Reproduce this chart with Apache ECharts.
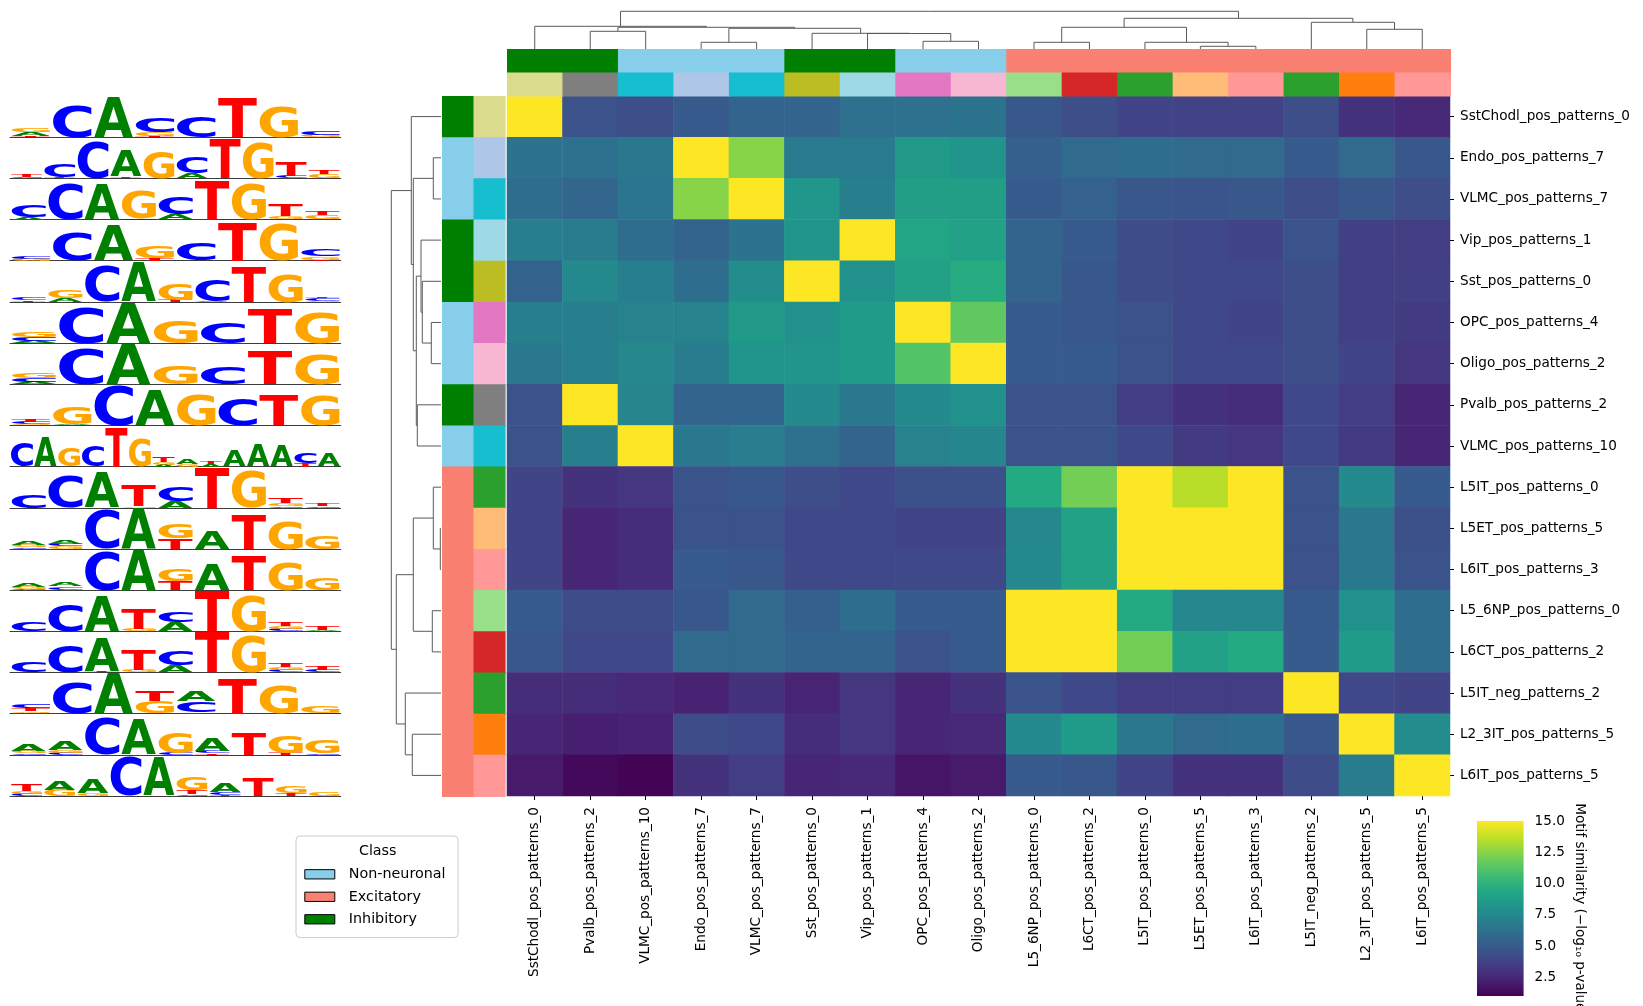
<!DOCTYPE html>
<html><head><meta charset="utf-8">
<script src="https://cdn.jsdelivr.net/npm/echarts@6/dist/echarts.min.js"></script>
<style>html,body{margin:0;padding:0;background:#fff}#c{width:1643px;height:1006px}</style>
</head><body><div id="c"></div>
<script>
// ---------------- DATA ----------------
const colLabels = ['SstChodl_pos_patterns_0','Pvalb_pos_patterns_2','VLMC_pos_patterns_10','Endo_pos_patterns_7','VLMC_pos_patterns_7','Sst_pos_patterns_0','Vip_pos_patterns_1','OPC_pos_patterns_4','Oligo_pos_patterns_2','L5_6NP_pos_patterns_0','L6CT_pos_patterns_2','L5IT_pos_patterns_0','L5ET_pos_patterns_5','L6IT_pos_patterns_3','L5IT_neg_patterns_2','L2_3IT_pos_patterns_5','L6IT_pos_patterns_5'];
const rowLabels = ['SstChodl_pos_patterns_0','Endo_pos_patterns_7','VLMC_pos_patterns_7','Vip_pos_patterns_1','Sst_pos_patterns_0','OPC_pos_patterns_4','Oligo_pos_patterns_2','Pvalb_pos_patterns_2','VLMC_pos_patterns_10','L5IT_pos_patterns_0','L5ET_pos_patterns_5','L6IT_pos_patterns_3','L5_6NP_pos_patterns_0','L6CT_pos_patterns_2','L5IT_neg_patterns_2','L2_3IT_pos_patterns_5','L6IT_pos_patterns_5'];
const colSubtype = ['SstChodl','Pvalb','VLMC','Endo','VLMC','Sst','Vip','OPC','Oligo','L5_6NP','L6CT','L5IT','L5ET','L6IT','L5IT','L2_3IT','L6IT'];
const rowSubtype = ['SstChodl','Endo','VLMC','Vip','Sst','OPC','Oligo','Pvalb','VLMC','L5IT','L5ET','L6IT','L5_6NP','L6CT','L5IT','L2_3IT','L6IT'];
const classNames = ['Non-neuronal','Excitatory','Inhibitory'];
const classColors = {'Non-neuronal':'#87ceeb','Excitatory':'#fa8072','Inhibitory':'#008000'};
const subtypeClass = {SstChodl:'Inhibitory',Pvalb:'Inhibitory',Sst:'Inhibitory',Vip:'Inhibitory',VLMC:'Non-neuronal',Endo:'Non-neuronal',OPC:'Non-neuronal',Oligo:'Non-neuronal',L5_6NP:'Excitatory',L6CT:'Excitatory',L5IT:'Excitatory',L5ET:'Excitatory',L6IT:'Excitatory',L2_3IT:'Excitatory'};
const subtypeColors = {SstChodl:'#dbdb8d',Pvalb:'#7f7f7f',VLMC:'#17becf',Endo:'#aec7e8',Sst:'#bcbd22',Vip:'#9edae5',OPC:'#e377c2',Oligo:'#f7b6d2',L5_6NP:'#98df8a',L6CT:'#d62728',L5IT:'#2ca02c',L5ET:'#ffbb78',L6IT:'#ff9896',L2_3IT:'#ff7f0e'};

// similarity (-log10 p) : rows x cols
const similarity = [
 [15, 4.5, 4.3, 5.0, 5.5, 5.5, 6.2, 6.2, 6.3, 4.8, 4.3, 3.8, 3.7, 3.7, 4.3, 3.0, 2.6],
 [6.3, 6.2, 6.6, 15, 12.5, 6.7, 6.7, 8.5, 8.2, 5.2, 5.8, 6.0, 5.8, 5.8, 5.0, 5.8, 4.8],
 [6.0, 5.6, 6.5, 12.5, 15, 8.3, 7.0, 8.8, 8.8, 5.0, 5.3, 4.8, 4.7, 4.8, 4.3, 4.8, 4.3],
 [7.0, 6.8, 6.0, 5.5, 6.3, 8.2, 15, 9.2, 9.0, 5.5, 5.0, 4.2, 4.0, 3.8, 4.6, 3.6, 3.5],
 [5.4, 7.6, 7.0, 6.0, 7.7, 15, 8.0, 9.0, 9.6, 5.5, 4.8, 4.2, 4.0, 4.0, 4.3, 3.6, 3.6],
 [7.0, 7.0, 7.2, 7.2, 8.5, 8.0, 8.6, 15, 11.5, 5.0, 4.8, 4.5, 4.0, 3.8, 4.3, 3.6, 3.4],
 [6.6, 7.0, 7.5, 6.8, 8.2, 8.2, 8.6, 11.2, 15, 5.0, 5.0, 4.5, 4.0, 4.0, 4.3, 3.8, 3.2],
 [4.5, 15, 7.3, 5.5, 5.5, 7.6, 6.6, 7.6, 8.0, 4.5, 4.5, 3.5, 3.0, 2.8, 4.0, 3.5, 2.5],
 [4.6, 7.0, 15, 6.6, 6.9, 6.2, 5.5, 7.2, 7.4, 4.6, 4.6, 4.0, 3.4, 3.2, 4.0, 3.4, 2.5],
 [3.8, 3.0, 3.2, 4.6, 4.8, 4.3, 4.0, 4.4, 4.4, 9.5, 12.0, 15, 13.5, 15, 4.6, 7.6, 5.0],
 [3.8, 2.5, 2.8, 4.6, 4.6, 4.0, 4.0, 3.8, 3.8, 7.5, 9.0, 15, 15, 15, 4.6, 6.6, 4.4],
 [3.8, 2.5, 2.8, 5.0, 4.8, 4.0, 4.0, 4.0, 4.0, 7.6, 9.0, 15, 15, 15, 4.5, 6.6, 4.6],
 [5.0, 4.2, 4.2, 4.8, 5.8, 5.2, 6.0, 5.0, 5.0, 15, 15, 9.5, 7.5, 7.5, 5.0, 8.0, 6.0],
 [4.8, 4.0, 4.0, 5.8, 5.8, 5.5, 5.5, 4.6, 5.0, 15, 15, 12.0, 9.0, 9.5, 5.0, 8.6, 6.0],
 [2.8, 2.8, 2.6, 2.3, 3.0, 2.4, 3.2, 2.5, 3.0, 4.6, 4.0, 3.5, 3.5, 3.5, 15, 4.0, 3.8],
 [2.5, 2.2, 2.3, 4.2, 4.0, 2.8, 3.2, 2.5, 2.6, 7.6, 8.6, 6.6, 5.8, 6.0, 4.8, 15, 7.8],
 [2.0, 1.3, 1.1, 3.0, 3.5, 2.5, 2.6, 1.8, 2.0, 5.0, 4.8, 3.8, 3.0, 3.0, 4.2, 6.8, 15]
];
const colorbarTicks = [2.5, 5.0, 7.5, 10.0, 12.5, 15.0];

// linkage (child a, child b, distance); leaves 0..16 in display order
const colLinkage = [
 [12,13,2.7],[3,4,6.7],[9,10,6.7],[11,17,6.7],[7,8,7.7],[6,21,15.5],[5,22,15.7],[1,2,17.7],
 [15,16,19.7],[18,23,20.7],[24,26,21.7],[19,20,21.7],[0,27,22.7],[14,25,26.7],[28,30,30.7],[29,31,37.7]
];
const rowLinkage = [
 [10,11,0.7],[1,2,7.7],[9,17,7.7],[12,13,8.7],[5,6,9.7],[4,21,18.7],[3,22,20.0],[7,8,23.7],
 [23,24,24.7],[18,25,27.7],[19,20,27.7],[15,16,28.7],[0,26,29.7],[14,28,35.7],[27,30,44.7],[29,31,49.7]
];

// sequence logos (one per row): columns, letters bottom->top with height in bits
const logos = [
 ['T.05 A.2 G.2','C1.55','A2','T.05 G.2 C.7','C1','T1.9','G1.5','G.12 C.2'],
 ['C.05 T.12','T.05 C.65','C1.85','T.08 A1.25','G1.3','A.27 C.75','T1.9','G1.8','C.1 T.7','G.2 T.2'],
 ['A.1 C.6','C1.8','A1.7','C.05 G1.35','A.25 C.85','T1.9','G1.75','G.15 T.6','G.2 T.2'],
 ['G.1 C.15','C1.4','A1.7','T.1 G.6','C.85','T1.87','G1.85','T.05 G.15 C.33'],
 ['T.08 C.12','A.2 G.4','C1.8','A1.9','T.1 G.75','A.05 C1.05','T1.7','G1.4','G.05 C.12 T.05'],
 ['A.1 C.2 G.25','C1.75','A2','G1.1','C.95','T1.65','G1.5'],
 ['A.1 C.2 G.25','C1.8','A1.95','G.9','C.85','T1.6','G1.45'],
 ['G.05 C.1 T.12','A.05 G.87','C1.95','A1.75','G1.5','C1.3','T1.5','G1.43'],
 ['C1.2','A1.4','G.9','C1','T1.9','G1.4','A.1 G.1 T.27','G.12 A.22','A.15 T.12','A.78','A1.07','A1','T.17 C.52','A.62'],
 ['C.62','C1.6','A1.7','G.08 T1.05','A.33 C.72','T1.95','G1.85','C.07 G.15 T.24','C.08 T.14'],
 ['C.08 G.12 A.2','G.12 C.12 A.2','C1.9','A2','T.52 G.7','A.87','T1.67','G1.35','G.63'],
 ['C.05 G.1 A.2','C.1 G.08 A.2','C1.9','A1.95','T.45 G.6','A1.25','T1.68','G1.37','G.57'],
 ['C.45','C1.3','A1.7','G.1 T.95','A.45 C.55','T1.98','G1.8','C.1 G.15 T.2','A.05 T.2'],
 ['C.52','C1.3','T.05 A1.6','G.1 T.95','A.33 C.72','T1.97','G1.85','C.12 G.15 T.2','C.12 T.2'],
 ['A.05 G.08 T.12 C.2','C1.5','A2','G.6 T.5','T.05 C.55 A.52','T1.75','G1.35','C.05 G.3'],
 ['C.08 G.12 A.32','C.1 G.15 A.47','C1.85','A1.75','C.1 G.95','T.08 C.12 A.66','T1.1','T.1 G.83','C.07 G.63'],
 ['C.1 G.15 T.32','G.3 A.47','G.15 A.7','C1.9','A1.83','C.08 T.2 G.63','T.07 C.12 A.43','T.9','T.15 G.32','G.22']
];

// ---------------- STYLE ----------------
const FONT = '"DejaVu Sans", sans-serif';
const viridis = ['#440154','#482475','#414487','#355f8d','#2a788e','#21918c','#22a884','#44bf70','#7ad151','#bddf26','#fde725'];
const LETTERS = ['A','C','G','T'];
const letterColor = {A:'#008000', C:'#0000ff', G:'#ffa500', T:'#ff0000'};
const LOGO_FONT = 'bold 100px "DejaVu Sans"';
const DENDRO_COLOR = '#5a5a5a';

// glyph ink metrics
const glyph = {};
(function(){
  const ctx = document.createElement('canvas').getContext('2d');
  ctx.font = LOGO_FONT; ctx.textBaseline = 'middle'; ctx.textAlign = 'left';
  LETTERS.forEach(L => {
    const m = ctx.measureText(L);
    glyph[L] = {l: m.actualBoundingBoxLeft, r: m.actualBoundingBoxRight, a: m.actualBoundingBoxAscent, d: m.actualBoundingBoxDescent};
    if (!isFinite(glyph[L].a) || glyph[L].a + glyph[L].d <= 0) glyph[L] = {l: -4, r: 72, a: 37, d: 37};
  });
})();

const grids = [], xAxes = [], yAxes = [], series = [];
function addGrid(g, xa, ya) {
  grids.push(Object.assign({outerBoundsMode: 'none', containLabel: false}, g));
  const gi = grids.length - 1;
  xAxes.push(Object.assign({gridIndex: gi}, xa));
  yAxes.push(Object.assign({gridIndex: gi}, ya));
  return gi;
}

const HM = {left: 507, top: 96, width: 943, height: 700};
const tickLabel = {fontSize: 13.6, fontFamily: FONT, color: '#000'};

// heatmap
const gH = addGrid(HM,
  {type: 'category', data: colLabels, position: 'bottom', axisLine: {show: false},
   axisTick: {show: true, alignWithLabel: true, length: 4, lineStyle: {color: '#000'}},
   axisLabel: Object.assign({rotate: 90, margin: 11, interval: 0}, tickLabel), splitLine: {show: false}},
  {type: 'category', data: rowLabels, inverse: true, position: 'right', axisLine: {show: false},
   axisTick: {show: true, alignWithLabel: true, length: 4, lineStyle: {color: '#000'}},
   axisLabel: Object.assign({margin: 10, interval: 0}, tickLabel), splitLine: {show: false}});
const hmData = [];
similarity.forEach((row, r) => row.forEach((v, c) => hmData.push([c, r, v])));
series.push({type: 'heatmap', xAxisIndex: gH, yAxisIndex: gH, data: hmData, progressive: 0, emphasis: {disabled: true}, silent: true});
const heatmapSeriesIndex = series.length - 1;

// cell renderer for annotation colour bars (cells overlap slightly to avoid seams)
function cellRender(colors, padX, padY) {
  return function (params, api) {
    const c = api.coord([api.value(0), api.value(1)]);
    const s = api.size([1, 1]);
    return {type: 'rect', shape: {x: c[0] - s[0] / 2, y: c[1] - s[1] / 2, width: s[0] + padX, height: s[1] + padY},
            style: {fill: colors[params.dataIndex], stroke: null}, silent: true};
  };
}

// column annotation bars
const gTC = addGrid({left: HM.left, top: 49, width: HM.width, height: 47},
  {type: 'category', data: colLabels, show: false}, {type: 'category', data: ['class', 'subtype'], inverse: true, show: false});
const tcData = [], tcColors = [];
colSubtype.forEach((s, i) => {
  tcData.push([i, 0]); tcColors.push(classColors[subtypeClass[s]]);
  tcData.push([i, 1]); tcColors.push(subtypeColors[s]);
});
series.push({type: 'custom', xAxisIndex: gTC, yAxisIndex: gTC, data: tcData, renderItem: cellRender(tcColors, 1, 0.6), silent: true});

// row annotation bars
const gRC = addGrid({left: 442, top: HM.top, width: 63, height: HM.height},
  {type: 'category', data: ['class', 'subtype'], show: false}, {type: 'category', data: rowLabels, inverse: true, show: false});
const rcData = [], rcColors = [];
rowSubtype.forEach((s, i) => {
  rcData.push([0, i]); rcColors.push(classColors[subtypeClass[s]]);
  rcData.push([1, i]); rcColors.push(subtypeColors[s]);
});
series.push({type: 'custom', xAxisIndex: gRC, yAxisIndex: gRC, data: rcData, renderItem: cellRender(rcColors, 0.6, 1), silent: true});

// dendrograms
function dendroLinks(merges, n) {
  const pos = [], h = [];
  for (let i = 0; i < n; i++) { pos[i] = i + 0.5; h[i] = 0; }
  const links = [];
  merges.forEach(([a, b, d], k) => {
    links.push([pos[a], pos[b], h[a], h[b], d]);
    pos[n + k] = (pos[a] + pos[b]) / 2; h[n + k] = d;
  });
  return links;
}
const colRoot = colLinkage[colLinkage.length - 1][2];
const rowRoot = rowLinkage[rowLinkage.length - 1][2];
const topH = 37.7 * 1.05;
const gTD = addGrid({left: HM.left, top: 49 - topH, width: HM.width, height: topH},
  {type: 'value', min: 0, max: colLabels.length, show: false},
  {type: 'value', min: 0, max: colRoot * 1.05, show: false});
series.push({type: 'custom', xAxisIndex: gTD, yAxisIndex: gTD, data: dendroLinks(colLinkage, colLabels.length), silent: true,
  renderItem: (p, api) => {
    const xa = api.value(0), xb = api.value(1), ha = api.value(2), hb = api.value(3), d = api.value(4);
    return {type: 'polyline', shape: {points: [api.coord([xa, ha]), api.coord([xa, d]), api.coord([xb, d]), api.coord([xb, hb])]},
            style: {stroke: DENDRO_COLOR, lineWidth: 1, fill: null}, silent: true};
  }});
const leftW = 49.7 * 1.05;
const gLD = addGrid({left: 441 - leftW, top: HM.top, width: leftW, height: HM.height},
  {type: 'value', min: 0, max: rowRoot * 1.05, inverse: true, show: false},
  {type: 'value', min: 0, max: rowLabels.length, inverse: true, show: false});
series.push({type: 'custom', xAxisIndex: gLD, yAxisIndex: gLD, data: dendroLinks(rowLinkage, rowLabels.length), silent: true,
  renderItem: (p, api) => {
    const ya = api.value(0), yb = api.value(1), ha = api.value(2), hb = api.value(3), d = api.value(4);
    return {type: 'polyline', shape: {points: [api.coord([ha, ya]), api.coord([d, ya]), api.coord([d, yb]), api.coord([hb, yb])]},
            style: {stroke: DENDRO_COLOR, lineWidth: 1, fill: null}, silent: true};
  }});

// sequence logos
const rowH = HM.height / rowLabels.length;
function logoRender(params, api) {
  const x0 = api.value(0), x1 = api.value(1), y0 = api.value(2), y1 = api.value(3);
  const L = LETTERS[api.value(4)];
  const pTL = api.coord([x0, y1]), pBR = api.coord([x1, y0]);
  const W = pBR[0] - pTL[0], H = pBR[1] - pTL[1];
  if (H < 0.4) return null;
  const g = glyph[L];
  const sx = W / (g.l + g.r), sy = H / (g.a + g.d);
  return {type: 'text', x: pTL[0] + sx * g.l, y: pTL[1] + sy * g.a, scaleX: sx, scaleY: sy, silent: true,
          style: {text: L, x: 0, y: 0, font: LOGO_FONT, fill: letterColor[L], align: 'left', verticalAlign: 'middle'}};
}
logos.forEach((cols, r) => {
  const n = cols.length;
  const gi = addGrid({left: 10, top: HM.top + r * rowH, width: 330.7, height: rowH},
    {type: 'value', min: 0, max: n, position: 'bottom', axisLine: {show: true, onZero: false, lineStyle: {color: '#3c3c3c', width: 1}},
     axisTick: {show: false}, axisLabel: {show: false}, splitLine: {show: false}},
    {type: 'value', min: 0, max: 2, show: false});
  const data = [];
  cols.forEach((col, p) => {
    let base = 0;
    col.trim().split(/\s+/).forEach(tok => {
      const L = tok[0], h = parseFloat(tok.slice(1));
      data.push([p + 0.03, p + 0.97, base, base + h, LETTERS.indexOf(L)]);
      base += h;
    });
  });
  series.push({type: 'custom', xAxisIndex: gi, yAxisIndex: gi, data: data, renderItem: logoRender, silent: true, clip: false});
});

// colorbar
const gCB = addGrid({left: 1477, top: 821, width: 46.6, height: 175},
  {type: 'value', min: 0, max: 1, show: false},
  {type: 'value', min: 1, max: 15, position: 'right', axisLine: {show: false},
   axisTick: {show: true, length: 4.5, customValues: colorbarTicks, lineStyle: {color: '#000'}},
   axisLabel: Object.assign({margin: 11, customValues: colorbarTicks, formatter: v => Number(v).toFixed(1)}, tickLabel),
   splitLine: {show: false}});
series.push({type: 'custom', xAxisIndex: gCB, yAxisIndex: gCB, data: [[0, 1, 1, 15]], silent: true,
  renderItem: (p, api) => {
    const a = api.coord([api.value(0), api.value(3)]), b = api.coord([api.value(1), api.value(2)]);
    return {type: 'rect', shape: {x: a[0], y: a[1], width: b[0] - a[0], height: b[1] - a[1]},
      style: {fill: new echarts.graphic.LinearGradient(0, 1, 0, 0, viridis.map((c, i) => ({offset: i / (viridis.length - 1), color: c})))}};
  }});

// legend dummy series
classNames.forEach(name => {
  series.push({type: 'bar', name: name, xAxisIndex: gH, yAxisIndex: gH, data: [], itemStyle: {color: classColors[name]}});
});

const option = {
  animation: false,
  backgroundColor: '#fff',
  textStyle: {fontFamily: FONT},
  grid: grids, xAxis: xAxes, yAxis: yAxes, series: series,
  visualMap: [{type: 'continuous', show: false, min: 1, max: 15, seriesIndex: heatmapSeriesIndex, inRange: {color: viridis}}],
  legend: {
    data: classNames, orient: 'vertical', left: 296, top: 836, icon: 'rect', selectedMode: false,
    itemWidth: 30, itemHeight: 9.3, itemGap: 6.5, padding: [30.3, 12.6, 10.3, 8.3],
    borderColor: '#cccccc', borderWidth: 1, borderRadius: 4, backgroundColor: 'rgba(255,255,255,0.8)',
    itemStyle: {borderColor: '#000', borderWidth: 1},
    textStyle: {fontFamily: FONT, fontSize: 14.3, color: '#000', lineHeight: 16, padding: [0, 0, 0, 9]}
  },
  graphic: [
    {type: 'text', x: 377.7, y: 851.7, silent: true, z: 100,
     style: {text: 'Class', font: '14.3px "DejaVu Sans"', fill: '#000', align: 'center', verticalAlign: 'middle'}},
    {type: 'text', x: 1580, y: 910, rotation: -Math.PI / 2, silent: true,
     style: {text: 'Motif similarity (\u2212log\u2081\u2080 p-value)', font: '13.6px "DejaVu Sans"', fill: '#000', align: 'center', verticalAlign: 'middle'}}
  ]
};
const chart = echarts.init(document.getElementById('c'), null, {renderer: 'canvas'});
chart.setOption(option);
</script>
</body></html>
